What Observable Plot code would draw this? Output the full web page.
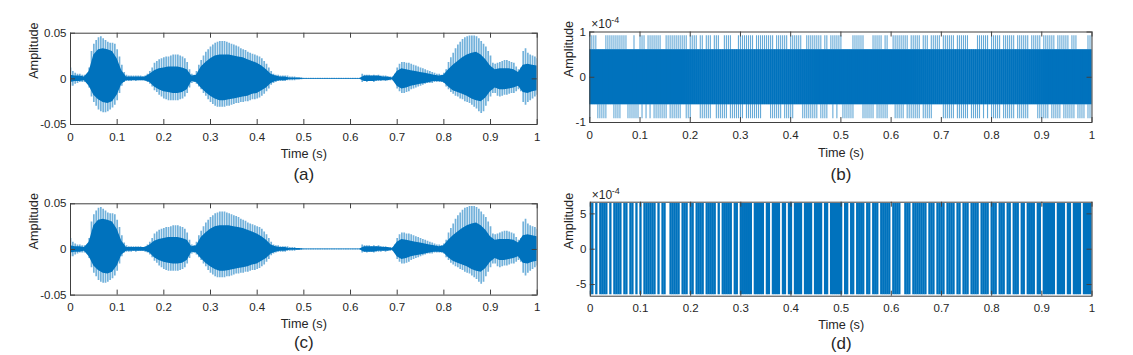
<!DOCTYPE html>
<html>
<head>
<meta charset="utf-8">
<script src="https://cdn.jsdelivr.net/npm/d3@7"></script>
<script src="https://cdn.jsdelivr.net/npm/@observablehq/plot@0.6"></script>
<style>
  html, body { margin: 0; padding: 0; background: #fff; }
  #fig { position: relative; width: 1133px; height: 355px; background: #fff; overflow: hidden; }
</style>
</head>
<body>
<div id="fig"></div>
<script>
// ---------------- tick labels ----------------
const timeTicks = [0, 0.1, 0.2, 0.3, 0.4, 0.5, 0.6, 0.7, 0.8, 0.9, 1];
const speechTicks = [-0.05, 0, 0.05];
const bTicks = [-1, 0, 1];
const dTicks = [-5, 0, 5];

// ---------------- (a) speech waveform: per-5 ms peak envelope ----------------
const aStep = 0.005;
const aMax = [
  0.012, 0.008, 0.006, 0.005, 0.005, 0.004, 0.004, 0.003, 0.012, 0.030,
  0.038, 0.042, 0.045, 0.046, 0.044, 0.042, 0.040, 0.039, 0.039, 0.038,
  0.032, 0.024, 0.015, 0.007, 0.004, 0.003, 0.003, 0.003, 0.003, 0.003,
  0.003, 0.002, 0.003, 0.005, 0.008, 0.012, 0.017, 0.019, 0.021, 0.022,
  0.023, 0.024, 0.024, 0.025, 0.026, 0.026, 0.026, 0.025, 0.024, 0.022,
  0.018, 0.010, 0.005, 0.004, 0.008, 0.015, 0.020, 0.025, 0.029, 0.032,
  0.035, 0.037, 0.039, 0.040, 0.041, 0.041, 0.041, 0.040, 0.039, 0.038,
  0.037, 0.036, 0.035, 0.033, 0.032, 0.031, 0.029, 0.028, 0.027, 0.026,
  0.025, 0.024, 0.022, 0.019, 0.016, 0.012, 0.008, 0.005, 0.004, 0.004,
  0.003, 0.003, 0.003, 0.003, 0.002, 0.002, 0.002, 0.001, 0.001, 0.001,
  0.0006, 0.0006, 0.0006, 0.0006, 0.0006, 0.0006, 0.0006, 0.0006, 0.0006, 0.0006,
  0.0006, 0.0006, 0.0006, 0.0006, 0.0006, 0.0006, 0.0006, 0.0006, 0.0006, 0.0006,
  0.0006, 0.0006, 0.0006, 0.0006, 0.0006, 0.005, 0.004, 0.004, 0.004, 0.003,
  0.004, 0.003, 0.004, 0.003, 0.003, 0.003, 0.002, 0.002, 0.002, 0.005,
  0.012, 0.016, 0.018, 0.018, 0.017, 0.017, 0.016, 0.015, 0.014, 0.013,
  0.012, 0.011, 0.010, 0.009, 0.008, 0.007, 0.006, 0.005, 0.005, 0.004,
  0.006, 0.010, 0.018, 0.023, 0.028, 0.033, 0.037, 0.040, 0.043, 0.045,
  0.046, 0.047, 0.047, 0.047, 0.046, 0.044, 0.041, 0.038, 0.035, 0.030,
  0.025, 0.017, 0.016, 0.017, 0.018, 0.019, 0.020, 0.020, 0.019, 0.018,
  0.017, 0.013, 0.010, 0.012, 0.030, 0.033, 0.028, 0.026, 0.025, 0.024,
  0.022
];
const aMin = [
  -0.008, -0.008, -0.006, -0.005, -0.004, -0.004, -0.004, -0.003, -0.010, -0.020,
  -0.026, -0.030, -0.034, -0.036, -0.037, -0.037, -0.036, -0.034, -0.032, -0.029,
  -0.024, -0.016, -0.008, -0.004, -0.003, -0.003, -0.003, -0.002, -0.003, -0.002,
  -0.002, -0.002, -0.003, -0.004, -0.006, -0.009, -0.013, -0.015, -0.018, -0.020,
  -0.022, -0.023, -0.024, -0.024, -0.024, -0.024, -0.024, -0.023, -0.022, -0.020,
  -0.016, -0.010, -0.005, -0.004, -0.006, -0.009, -0.012, -0.016, -0.019, -0.023,
  -0.026, -0.028, -0.030, -0.031, -0.031, -0.031, -0.031, -0.030, -0.030, -0.029,
  -0.028, -0.027, -0.027, -0.026, -0.026, -0.025, -0.025, -0.024, -0.023, -0.023,
  -0.022, -0.021, -0.019, -0.017, -0.014, -0.011, -0.007, -0.005, -0.004, -0.003,
  -0.003, -0.003, -0.003, -0.002, -0.002, -0.002, -0.002, -0.001, -0.001, -0.001,
  -0.0006, -0.0006, -0.0006, -0.0006, -0.0006, -0.0006, -0.0006, -0.0006, -0.0006, -0.0006,
  -0.0006, -0.0006, -0.0006, -0.0006, -0.0006, -0.0006, -0.0006, -0.0006, -0.0006, -0.0006,
  -0.0006, -0.0006, -0.0006, -0.0006, -0.0006, -0.004, -0.003, -0.004, -0.003, -0.003,
  -0.004, -0.003, -0.003, -0.003, -0.002, -0.003, -0.002, -0.002, -0.002, -0.004,
  -0.011, -0.014, -0.016, -0.016, -0.015, -0.014, -0.012, -0.011, -0.010, -0.009,
  -0.008, -0.007, -0.006, -0.005, -0.005, -0.005, -0.004, -0.004, -0.004, -0.004,
  -0.005, -0.009, -0.012, -0.015, -0.017, -0.019, -0.020, -0.022, -0.023, -0.025,
  -0.026, -0.027, -0.029, -0.031, -0.033, -0.036, -0.038, -0.036, -0.030, -0.025,
  -0.020, -0.016, -0.016, -0.019, -0.020, -0.019, -0.018, -0.018, -0.017, -0.016,
  -0.016, -0.014, -0.012, -0.014, -0.026, -0.029, -0.026, -0.024, -0.022, -0.020,
  -0.018
];
// dense core of the waveform, per 10 ms
const aCoreStep = 0.01;
const aCoreHi = [
  0.004, 0.003, 0.003, 0.002, 0.008, 0.026, 0.032, 0.033, 0.032, 0.030,
  0.022, 0.009, 0.002, 0.002, 0.002, 0.002, 0.002, 0.005, 0.009, 0.011,
  0.012, 0.013, 0.013, 0.013, 0.012, 0.010, 0.003, 0.004, 0.013, 0.018,
  0.022, 0.025, 0.026, 0.026, 0.026, 0.025, 0.024, 0.023, 0.021, 0.019,
  0.017, 0.014, 0.010, 0.005, 0.003, 0.002, 0.002, 0.001, 0.001, 0.001,
  0.0004, 0.0004, 0.0004, 0.0004, 0.0004, 0.0004, 0.0004, 0.0004, 0.0004, 0.0004,
  0.0004, 0.0004, 0.0004, 0.003, 0.003, 0.003, 0.003, 0.002, 0.002, 0.001,
  0.008, 0.011, 0.010, 0.009, 0.008, 0.007, 0.006, 0.005, 0.004, 0.003,
  0.004, 0.010, 0.015, 0.019, 0.023, 0.026, 0.028, 0.029, 0.026, 0.021,
  0.014, 0.010, 0.011, 0.011, 0.011, 0.010, 0.007, 0.015, 0.016, 0.015,
  0.014
];
const aCoreLo = [
  -0.004, -0.003, -0.003, -0.002, -0.008, -0.018, -0.023, -0.026, -0.027, -0.025,
  -0.018, -0.006, -0.002, -0.002, -0.002, -0.002, -0.002, -0.004, -0.009, -0.012,
  -0.014, -0.015, -0.016, -0.016, -0.015, -0.012, -0.003, -0.004, -0.010, -0.015,
  -0.019, -0.022, -0.024, -0.024, -0.023, -0.022, -0.021, -0.020, -0.019, -0.017,
  -0.016, -0.013, -0.010, -0.005, -0.003, -0.002, -0.002, -0.001, -0.001, -0.001,
  -0.0004, -0.0004, -0.0004, -0.0004, -0.0004, -0.0004, -0.0004, -0.0004, -0.0004, -0.0004,
  -0.0004, -0.0004, -0.0004, -0.003, -0.003, -0.003, -0.002, -0.002, -0.002, -0.001,
  -0.008, -0.011, -0.010, -0.008, -0.007, -0.006, -0.005, -0.004, -0.003, -0.003,
  -0.004, -0.009, -0.013, -0.015, -0.017, -0.019, -0.022, -0.024, -0.025, -0.021,
  -0.014, -0.010, -0.012, -0.012, -0.011, -0.010, -0.008, -0.015, -0.016, -0.014,
  -0.013
];
// (c) reads the same as (a) in the picture
const cMax = aMax, cMin = aMin, cCoreHi = aCoreHi, cCoreLo = aCoreLo;

// ---------------- (b) quantised noise: per-4 ms extreme levels (in LSB) ----------------
const bStep = 0.004;
const bLsb = 0.3052; // one 16-bit step, in units of 1e-4
const bTop = [
  3,3,3,3,2,2,2,2,3,3, 3,3,3,3,3,3,3,3,3,2, 2,2,3,2,2,3,3,3,2,3, 3,3,3,3,3,3,2,2,3,3,
  3,3,3,3,3,3,3,3,3,2, 3,3,3,3,2,3,3,2,3,3, 3,2,3,3,3,2,2,3,3,3, 3,2,2,2,3,3,3,3,3,3,
  3,3,2,3,3,3,3,3,3,3, 3,3,2,3,3,3,3,3,3,2, 3,3,3,3,3,3,2,2,3,3, 3,3,3,3,3,3,2,3,3,2,
  3,3,3,3,3,3,2,2,2,2, 2,3,3,3,3,3,3,2,2,2, 2,3,3,3,3,3,2,3,3,2, 2,3,3,3,3,3,3,3,3,2,
  3,3,3,3,3,2,3,3,3,2, 3,3,3,3,3,2,3,3,3,3, 3,3,2,3,3,3,3,3,3,2, 2,2,2,3,3,3,3,3,3,2,
  3,3,3,3,3,2,3,3,3,3, 3,3,2,3,3,3,3,3,3,2, 3,3,3,3,3,2,3,3,3,3, 3,3,2,3,3,3,3,3,3,2,
  3,3,3,2,2,2,2,2,3,3, 3
];
const bBot = [
  -3,-2,-2,-2,-3,-3,-3,-3,-3,-2, -2,-2,-3,-3,-3,-3,-2,-2,-2,-3, -3,-3,-3,-3,-3,-2,-3,-2,-3,-2, -3,-2,-3,-3,-3,-3,-3,-3,-3,-2,
  -3,-3,-3,-3,-3,-3,-2,-2,-3,-3, -3,-2,-2,-2,-2,-3,-3,-3,-3,-3, -3,-2,-2,-3,-3,-3,-3,-3,-3,-2, -3,-3,-3,-3,-3,-3,-3,-2,-3,-3,
  -3,-3,-3,-3,-3,-3,-2,-2,-2,-2, -3,-3,-3,-3,-3,-3,-2,-3,-3,-3, -3,-3,-2,-2,-2,-2,-3,-3,-3,-3, -3,-3,-3,-3,-2,-3,-3,-3,-3,-2,
  -2,-3,-2,-3,-2,-2,-3,-3,-3,-3, -3,-3,-2,-2,-2,-2,-3,-3,-3,-3, -3,-3,-2,-3,-3,-3,-3,-3,-3,-2, -2,-2,-3,-3,-3,-3,-3,-2,-3,-3,
  -3,-3,-3,-3,-3,-2,-3,-3,-3,-3, -3,-2,-2,-2,-2,-2,-3,-3,-3,-3, -3,-3,-2,-3,-3,-3,-3,-3,-3,-2, -3,-3,-3,-3,-3,-2,-3,-2,-3,-2,
  -3,-3,-3,-3,-3,-2,-3,-3,-3,-3, -3,-3,-2,-3,-3,-3,-3,-3,-3,-2, -2,-2,-2,-3,-3,-3,-3,-3,-3,-2, -3,-3,-3,-3,-3,-2,-3,-3,-3,-3,
  -3,-3,-2,-3,-3,-3,-3,-2,-3,-3, -3
];

// ---------------- (d) binary signal: per-4 ms activity (1 = swings full range, 0 = held) ----------------
const dStep = 0.004;
const dAmp = 6.45; // units of 1e-4
const dActive = [
  1,1,0,1,0,1,1,1,1,0, 1,0,1,1,1,1,0,1,1,0, 1,1,0,1,0,1,0,1,1,1, 1,1,1,0,1,0,1,1,0,0,
  1,1,1,1,1,0,1,1,1,0, 1,1,0,1,1,1,1,0,1,1, 1,1,1,0,1,0,1,1,1,1, 1,0,1,1,0,1,1,1,1,1,
  1,0,1,1,1,1,1,0,1,1, 0,1,1,1,1,0,1,1,0,1, 1,0,1,1,1,1,0,1,1,1, 1,0,1,1,1,1,0,1,1,0,
  1,1,1,1,1,1,0,1,1,0, 1,1,0,1,1,1,1,0,1,1, 0,1,1,1,0,1,1,1,1,1, 0,1,1,1,1,0,0,1,1,1,
  0,1,1,1,1,1,1,1,0,1, 1,1,0,1,1,1,1,0,1,1, 1,1,0,1,1,0,1,1,1,0, 1,1,1,1,0,1,1,1,1,0,
  1,1,1,0,1,1,1,0,1,1, 0,1,1,1,0,1,1,0,1,1, 1,1,0,1,1,0,1,1,1,1, 1,1,0,1,1,1,1,0,1,1,
  0,1,1,1,1,0,1,1,1,1, 1
];

// ---------------- tables built from the arrays ----------------
const envTable = (hi, lo, step) => hi.map((v, i) => ({t: i * step, hi: v, lo: lo[i]}));
const aOuter = envTable(aMax, aMin, aStep);
const aCore = envTable(aCoreHi, aCoreLo, aCoreStep);
const cOuter = envTable(cMax, cMin, aStep);
const cCore = envTable(cCoreHi, cCoreLo, aCoreStep);
const bBins = bTop.map((v, i) => ({t: i * bStep, top: v, bot: bBot[i]}));
const dBins = dActive.map((v, i) => ({t: i * dStep, on: v}));

// ---------------- styling ----------------
const FONT = "'Liberation Sans', Arial, Helvetica, sans-serif";
const BLUE = "#0072BD";
const AXIS = "#404040";
const TXT = "#262626";
const fig = document.getElementById("fig");

function panel(cfg) {
  const mL = cfg.fx - cfg.sx;
  const mT = cfg.fy - cfg.sy;
  const mR = cfg.sx + cfg.sw - (cfg.fx + cfg.fw);
  const mB = cfg.sy + cfg.sh - (cfg.fy + cfg.fh);
  const tick = 5;
  const marks = [
    ...cfg.marks,
    // inward ticks on all four sides
    Plot.ruleX(timeTicks, {x: d => d, insetTop: cfg.fh - tick, stroke: AXIS}),
    Plot.ruleX(timeTicks, {x: d => d, insetBottom: cfg.fh - tick, stroke: AXIS}),
    Plot.ruleY(cfg.yTicks, {y: d => d, insetRight: cfg.fw - tick, stroke: AXIS}),
    Plot.ruleY(cfg.yTicks, {y: d => d, insetLeft: cfg.fw - tick, stroke: AXIS}),
    // tick labels
    Plot.text(timeTicks, {x: d => d, frameAnchor: "bottom", dy: cfg.tickDy, text: d => String(d),
      lineAnchor: "middle", fontSize: 11.5, fill: TXT}),
    Plot.text(cfg.yTicks, {y: d => d, frameAnchor: "left", dx: -4, text: d => String(d),
      textAnchor: "end", lineAnchor: "middle", fontSize: 11.5, fill: TXT}),
    // axis titles and caption
    Plot.text(["Time (s)"], {frameAnchor: "bottom", dy: cfg.labelDy, text: d => d,
      lineAnchor: "middle", fontSize: 12.7, fill: TXT}),
    Plot.text(["Amplitude"], {frameAnchor: "left", dx: cfg.ampDx, rotate: -90, text: d => d,
      lineAnchor: "middle", fontSize: 12.7, fill: TXT}),
    Plot.text([cfg.caption], {frameAnchor: "bottom", dy: cfg.capDy, text: d => d,
      lineAnchor: "middle", fontSize: 17, fill: TXT}),
    Plot.frame({stroke: AXIS, strokeWidth: 1})
  ];
  if (cfg.exponent) {
    marks.push(
      Plot.text(["\u00d710"], {frameAnchor: "top-left", dx: 1.5, dy: cfg.expDy, text: d => d,
        textAnchor: "start", lineAnchor: "middle", fontSize: 12, fill: TXT}),
      Plot.text([cfg.exponent], {frameAnchor: "top-left", dx: 21.5, dy: cfg.expDy - 4.5, text: d => d,
        textAnchor: "start", lineAnchor: "middle", fontSize: 9, fill: TXT})
    );
  }
  const chart = Plot.plot({
    width: cfg.sw, height: cfg.sh,
    marginLeft: mL, marginRight: mR, marginTop: mT, marginBottom: mB,
    x: {domain: [0, 1], axis: null},
    y: {domain: cfg.yDomain, axis: null},
    style: {fontFamily: FONT, color: TXT, background: "transparent", overflow: "visible"},
    marks
  });
  chart.style.position = "absolute";
  chart.style.left = cfg.sx + "px";
  chart.style.top = cfg.sy + "px";
  fig.appendChild(chart);
}

const speechMarks = (outer, core) => [
  Plot.ruleX(outer, {x: "t", y1: "lo", y2: "hi", stroke: BLUE, strokeOpacity: 0.55, strokeWidth: 1.7, clip: true}),
  Plot.areaY(core, {x: "t", y1: "lo", y2: "hi", fill: BLUE, clip: true})
];

// (a)
panel({
  sx: 0, sy: 0, sw: 560, sh: 190,
  fx: 70, fy: 32.7, fw: 466.7, fh: 91.3,
  yDomain: [-0.05, 0.05], yTicks: speechTicks,
  tickDy: 12.7, labelDy: 29.3, capDy: 50.3, ampDx: -37, caption: "(a)",
  marks: speechMarks(aOuter, aCore)
});

// (b)
panel({
  sx: 560, sy: 0, sw: 573, sh: 190,
  fx: 589.3, fy: 31.5, fw: 502.2, fh: 90.5,
  yDomain: [-1, 1], yTicks: bTicks,
  tickDy: 13, labelDy: 30, capDy: 52, ampDx: -21.3, caption: "(b)",
  exponent: "-4", expDy: -7.5,
  marks: [
    Plot.ruleX(bBins, {x: "t", y1: d => d.bot * bLsb, y2: d => d.top * bLsb,
      stroke: BLUE, strokeOpacity: 0.6, strokeWidth: 1.1, clip: true}),
    Plot.ruleX(bBins, {x: "t", y1: d => Math.max(d.bot, -2) * bLsb, y2: d => Math.min(d.top, 2) * bLsb,
      stroke: BLUE, strokeWidth: 2.4, clip: true})
  ]
});

// (c)
panel({
  sx: 0, sy: 190, sw: 560, sh: 165,
  fx: 70, fy: 203.3, fw: 466.7, fh: 91.3,
  yDomain: [-0.05, 0.05], yTicks: speechTicks,
  tickDy: 12.6, labelDy: 28.6, capDy: 47.6, ampDx: -37, caption: "(c)",
  marks: speechMarks(cOuter, cCore)
});

// (d)
panel({
  sx: 560, sy: 190, sw: 573, sh: 165,
  fx: 589.8, fy: 201.7, fw: 501.7, fh: 94,
  yDomain: [-6.65, 6.65], yTicks: dTicks,
  tickDy: 12.6, labelDy: 28.6, capDy: 47.6, ampDx: -21.5, caption: "(d)",
  exponent: "-4", expDy: -6.7,
  marks: [
    Plot.ruleX(dBins.filter(d => d.on === 1), {x: "t", y1: d => -dAmp, y2: d => dAmp,
      stroke: BLUE, strokeWidth: 2.3, clip: true})
  ]
});
</script>
</body>
</html>
